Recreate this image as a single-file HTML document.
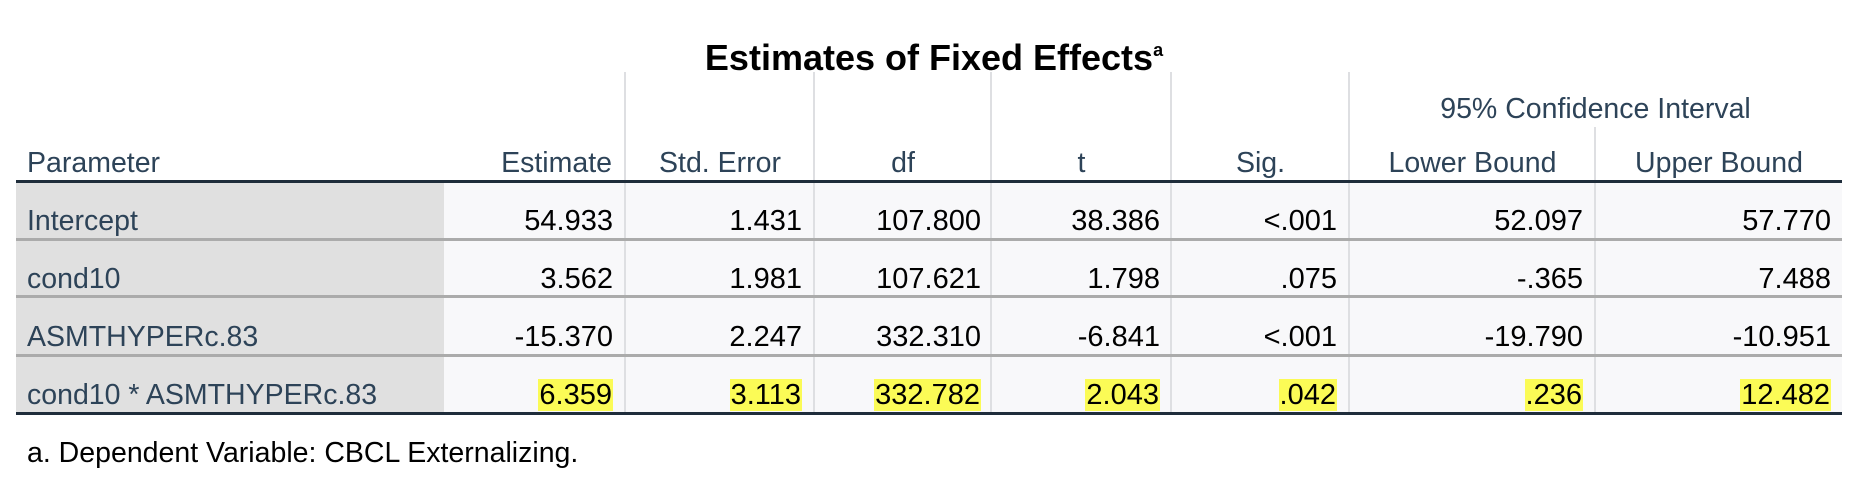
<!DOCTYPE html>
<html><head><meta charset="utf-8"><style>
html,body{margin:0;padding:0;background:#fff;}
#root{position:relative;width:1868px;height:478px;overflow:hidden;font-family:"Liberation Sans",Arial,sans-serif;}
.abs{position:absolute;}
.title{left:0;width:1868px;top:30px;text-align:center;font-weight:bold;font-size:36px;color:#000;line-height:40px;}
.title sup{font-size:18px;vertical-align:14px;}
.hd{color:#2d4358;font-size:28.5px;line-height:32px;white-space:nowrap;}
.vl{width:2px;background:#dedfe2;}
.cell{font-size:29px;line-height:34px;color:#000;text-align:right;white-space:nowrap;}
.pn{font-size:28.5px;line-height:34px;color:#2d4358;white-space:nowrap;}
.hl{background:#fbfb56;padding:0 1px;}
.rl{height:3px;background:#ababab;left:16px;width:1826px;}
</style></head><body>
<div id="root">
<div class="abs title">Estimates of Fixed Effects<sup>a</sup></div>

<div class="abs" style="left:16px;top:182px;width:428px;height:231px;background:#e0e0e0"></div>
<div class="abs" style="left:444px;top:182px;width:1398px;height:231px;background:#f8f8fa"></div>

<div class="abs vl" style="left:624px;top:72px;height:341px"></div>
<div class="abs vl" style="left:813px;top:72px;height:341px"></div>
<div class="abs vl" style="left:990px;top:72px;height:341px"></div>
<div class="abs vl" style="left:1170px;top:72px;height:341px"></div>
<div class="abs vl" style="left:1348px;top:72px;height:341px"></div>
<div class="abs vl" style="left:1594px;top:127px;height:286px"></div>

<div class="abs hd" style="left:1349px;width:493px;top:93px;text-align:center">95% Confidence Interval</div>
<div class="abs hd" style="left:27px;top:147px">Parameter</div>
<div class="abs hd" style="left:444px;width:181px;top:147px;text-align:right;padding-right:0"><span style="margin-right:13px">Estimate</span></div>
<div class="abs hd" style="left:626px;width:188px;top:147px;text-align:center">Std. Error</div>
<div class="abs hd" style="left:815px;width:176px;top:147px;text-align:center">df</div>
<div class="abs hd" style="left:992px;width:179px;top:147px;text-align:center">t</div>
<div class="abs hd" style="left:1172px;width:177px;top:147px;text-align:center">Sig.</div>
<div class="abs hd" style="left:1350px;width:245px;top:147px;text-align:center">Lower Bound</div>
<div class="abs hd" style="left:1596px;width:246px;top:147px;text-align:center">Upper Bound</div>

<div class="abs" style="left:16px;top:180px;width:1826px;height:3px;background:#1f2d3b"></div>
<div class="abs rl" style="top:238px"></div>
<div class="abs rl" style="top:295px"></div>
<div class="abs rl" style="top:354px"></div>
<div class="abs" style="left:16px;top:412px;width:1826px;height:3px;background:#1f2d3b"></div>

<!-- rows -->
<div class="abs pn" style="left:27px;top:204px">Intercept</div>
<div class="abs pn" style="left:27px;top:262px">cond10</div>
<div class="abs pn" style="left:27px;top:320px">ASMTHYPERc.83</div>
<div class="abs pn" style="left:27px;top:378px">cond10 * ASMTHYPERc.83</div>

<div id="cells"></div>
<div class="abs" style="left:27px;top:436px;font-size:28.5px;line-height:34px;color:#000">a. Dependent Variable: CBCL Externalizing.</div>
</div>
<script>
const rights=[613,802,981,1160,1337,1583,1831];
const rowTops=[204,262,320,378];
const vals=[
["54.933","1.431","107.800","38.386","<.001","52.097","57.770"],
["3.562","1.981","107.621","1.798",".075","-.365","7.488"],
["-15.370","2.247","332.310","-6.841","<.001","-19.790","-10.951"],
["6.359","3.113","332.782","2.043",".042",".236","12.482"]];
const root=document.getElementById('root');
vals.forEach((row,r)=>row.forEach((v,c)=>{
 const d=document.createElement('div');
 d.className='abs cell';
 d.style.right=(1868-rights[c])+'px';
 d.style.top=rowTops[r]+'px';
 const s=document.createElement('span');
 if(r===3) s.className='hl';
 s.textContent=v;
 d.appendChild(s);
 
 
 root.appendChild(d);
}));
</script>
</body></html>
